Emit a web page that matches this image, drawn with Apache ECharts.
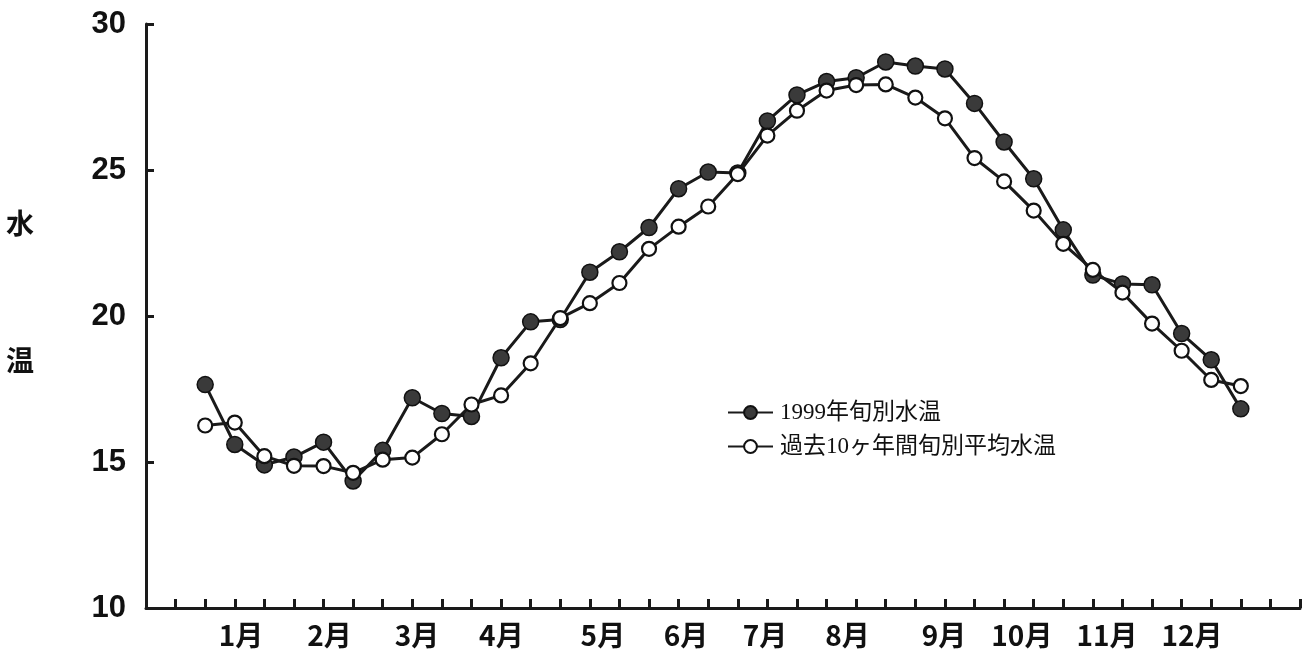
<!DOCTYPE html>
<html>
<head>
<meta charset="utf-8">
<script src="https://cdn.jsdelivr.net/npm/echarts@6/dist/echarts.min.js"></script>
<style>
html,body{margin:0;padding:0;background:#fff;}
#chart{width:1312px;height:664px;}
</style>
</head>
<body>
<div id="chart"></div>
<script>
// 旬 index (1..36 -> plotted at 2..37 on the x value axis)
const periods = [2,3,4,5,6,7,8,9,10,11,12,13,14,15,16,17,18,19,20,21,22,23,24,25,26,27,28,29,30,31,32,33,34,35,36,37];
const temp1999 = [17.65,15.6,14.9,15.17,15.68,14.35,15.4,17.2,16.66,16.56,18.57,19.8,19.88,21.5,22.2,23.03,24.36,24.93,24.9,26.68,27.57,28.03,28.16,28.7,28.56,28.46,27.28,25.96,24.7,22.95,21.4,21.1,21.07,19.4,18.5,16.82];
const tempAvg10 = [16.25,16.35,15.2,14.87,14.86,14.63,15.08,15.15,15.95,16.97,17.28,18.38,19.93,20.44,21.13,22.3,23.06,23.75,24.86,26.18,27.03,27.72,27.91,27.93,27.48,26.77,25.41,24.61,23.61,22.47,21.58,20.8,19.74,18.81,17.81,17.6];
const monthLabels = ['1月','2月','3月','4月','5月','6月','7月','8月','9月','10月','11月','12月'];
const monthPos = [3.21,6.2,9.16,12.01,15.44,18.25,20.92,23.71,26.97,29.6,32.48,35.35];
const yTicks = [10,15,20,25,30];
const seriesNames = ['1999年旬別水温','過去10ヶ年間旬別平均水温'];

const pair = (xs, ys) => xs.map((x, i) => [x, ys[i]]);
const ink = '#1a1a1a';
const sansBold = "'Liberation Sans','Noto Sans CJK JP',sans-serif";

const chart = echarts.init(document.getElementById('chart'), null, {renderer: 'canvas'});
chart.setOption({
  backgroundColor: '#ffffff',
  animation: false,
  grid: {left: 146, right: 12, top: 24, bottom: 56, containLabel: false},
  xAxis: {
    type: 'value', min: 0, max: 39, interval: 1,
    axisLine: {show: true, lineStyle: {color: ink, width: 3}},
    axisTick: {show: true, inside: true, length: 9, lineStyle: {color: ink, width: 3}},
    splitLine: {show: false},
    axisLabel: {
      show: true,
      customValues: monthPos,
      formatter: (v) => { const i = monthPos.findIndex(p => Math.abs(p - v) < 1e-6); return i >= 0 ? monthLabels[i] : ''; },
      margin: 13, fontSize: 28, fontWeight: 'bold', color: '#111',
      fontFamily: "'Noto Sans CJK JP',sans-serif"
    }
  },
  yAxis: {
    type: 'value', min: yTicks[0], max: yTicks[yTicks.length - 1], interval: 5,
    axisLine: {show: true, lineStyle: {color: ink, width: 3}},
    axisTick: {show: true, inside: true, length: 8, lineStyle: {color: ink, width: 3}},
    splitLine: {show: false},
    axisLabel: {margin: 20, fontSize: 31, fontWeight: 'bold', color: '#111', fontFamily: sansBold}
  },
  legend: {
    orient: 'vertical', left: 722, top: 396,
    itemWidth: 45, itemHeight: 16, itemGap: 11,
    textStyle: {fontSize: 23, lineHeight: 22, color: '#111', fontFamily: "'Liberation Serif','Noto Sans CJK JP',serif", padding: [0,0,0,2]},
    data: seriesNames
  },
  graphic: [
    {type: 'text', left: 6, top: 209, style: {text: '水', fontSize: 28, fontWeight: 'bold', fill: '#111', fontFamily: "'Noto Sans CJK JP',sans-serif"}},
    {type: 'text', left: 6, top: 346, style: {text: '温', fontSize: 28, fontWeight: 'bold', fill: '#111', fontFamily: "'Noto Sans CJK JP',sans-serif"}}
  ],
  series: [
    {
      name: seriesNames[0], type: 'line', data: pair(periods, temp1999),
      symbol: 'circle', symbolSize: 16,
      lineStyle: {color: ink, width: 3},
      itemStyle: {color: '#3a3a3a', borderColor: '#111', borderWidth: 1.5},
      z: 2
    },
    {
      name: seriesNames[1], type: 'line', data: pair(periods, tempAvg10),
      symbol: 'circle', symbolSize: 14,
      lineStyle: {color: ink, width: 3},
      itemStyle: {color: '#ffffff', borderColor: '#111', borderWidth: 2.2},
      z: 3
    }
  ]
});
</script>
</body>
</html>
